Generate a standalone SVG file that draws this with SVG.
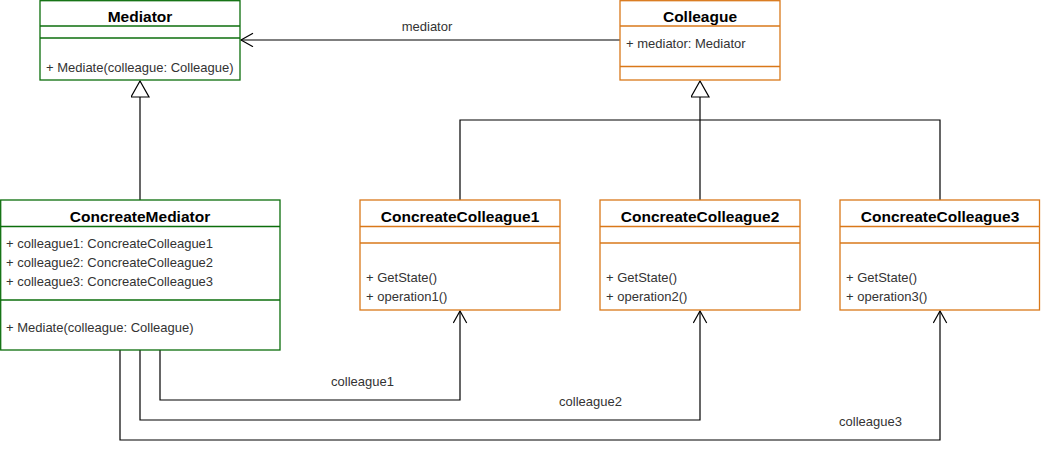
<svg xmlns="http://www.w3.org/2000/svg" width="1041" height="455" viewBox="0 0 1041 455">
<style>
.g{fill:#fff;stroke:#0c6e0c;stroke-width:1.3}
.o{fill:#fff;stroke:#d9781a;stroke-width:1.3}
.gl{stroke:#0c6e0c;stroke-width:1.3}
.ol{stroke:#d9781a;stroke-width:1.3}
.t{font-family:"Liberation Sans",Arial,sans-serif;font-size:15.5px;font-weight:bold;fill:#000;text-anchor:middle}
.m{font-family:"Liberation Sans",Arial,sans-serif;font-size:13px;fill:#333}
.c{fill:none;stroke:#000;stroke-width:1.2}
.l{font-family:"Liberation Sans",Arial,sans-serif;font-size:13px;fill:#333;text-anchor:middle}
</style>
<defs>
<marker id="open" markerWidth="16" markerHeight="16" refX="13" refY="7" orient="auto" markerUnits="userSpaceOnUse">
<path d="M1,0.3 L13,7 L1,13.7" fill="none" stroke="#000" stroke-width="1.2"/>
</marker>
<marker id="tri" markerWidth="20" markerHeight="22" refX="17" refY="9" orient="auto" markerUnits="userSpaceOnUse">
<path d="M1,0 L17,9 L1,18 Z" fill="#fff" stroke="#000" stroke-width="1.2"/>
</marker>
</defs>
<rect width="1041" height="455" fill="#fff"/>
<g id="connectors">
<path class="c" d="M620,40 H241" marker-end="url(#open)"/>
<path class="c" d="M140,200 V81" marker-end="url(#tri)"/>
<path class="c" d="M700,200 V81" marker-end="url(#tri)"/>
<path class="c" d="M460,200 V120 H940 V200"/>
<path class="c" d="M160,350 V400 H460 V311" marker-end="url(#open)"/>
<path class="c" d="M140,350 V420 H700 V311" marker-end="url(#open)"/>
<path class="c" d="M120,350 V440 H940 V311" marker-end="url(#open)"/>
<text class="l" x="427" y="31">mediator</text>
<text class="l" x="362.5" y="386">colleague1</text>
<text class="l" x="590.5" y="406">colleague2</text>
<text class="l" x="870.5" y="426">colleague3</text>
</g>
<g id="Mediator">
<rect class="g" x="40" y="0.7" width="200" height="79.3"/>
<line class="gl" x1="40" y1="26" x2="240" y2="26"/>
<line class="gl" x1="40" y1="38" x2="240" y2="38"/>
<text class="t" x="140" y="21.5">Mediator</text>
<text class="m" x="46" y="72">+ Mediate(colleague: Colleague)</text>
</g>
<g id="Colleague">
<rect class="o" x="620" y="0.7" width="160" height="79.3"/>
<line class="ol" x1="620" y1="26" x2="780" y2="26"/>
<line class="ol" x1="620" y1="66.5" x2="780" y2="66.5"/>
<text class="t" x="700" y="21.5">Colleague</text>
<text class="m" x="626" y="47.5">+ mediator: Mediator</text>
</g>
<g id="ConcreateMediator">
<rect class="g" x="0.7" y="200" width="279.3" height="150"/>
<line class="gl" x1="0" y1="226.5" x2="280" y2="226.5"/>
<line class="gl" x1="0" y1="300" x2="280" y2="300"/>
<text class="t" x="140" y="222">ConcreateMediator</text>
<text class="m" x="6" y="248">+ colleague1: ConcreateColleague1</text>
<text class="m" x="6" y="267">+ colleague2: ConcreateColleague2</text>
<text class="m" x="6" y="286">+ colleague3: ConcreateColleague3</text>
<text class="m" x="6" y="332">+ Mediate(colleague: Colleague)</text>
</g>
<g id="ConcreateColleague1">
<rect class="o" x="360" y="200" width="200" height="110"/>
<line class="ol" x1="360" y1="226.5" x2="560" y2="226.5"/>
<line class="ol" x1="360" y1="243" x2="560" y2="243"/>
<text class="t" x="460" y="222">ConcreateColleague1</text>
<text class="m" x="366" y="282">+ GetState()</text>
<text class="m" x="366" y="301">+ operation1()</text>
</g>
<g id="ConcreateColleague2">
<rect class="o" x="600" y="200" width="200" height="110"/>
<line class="ol" x1="600" y1="226.5" x2="800" y2="226.5"/>
<line class="ol" x1="600" y1="243" x2="800" y2="243"/>
<text class="t" x="700" y="222">ConcreateColleague2</text>
<text class="m" x="606" y="282">+ GetState()</text>
<text class="m" x="606" y="301">+ operation2()</text>
</g>
<g id="ConcreateColleague3">
<rect class="o" x="840" y="200" width="199.5" height="110"/>
<line class="ol" x1="840" y1="226.5" x2="1040" y2="226.5"/>
<line class="ol" x1="840" y1="243" x2="1040" y2="243"/>
<text class="t" x="940" y="222">ConcreateColleague3</text>
<text class="m" x="846" y="282">+ GetState()</text>
<text class="m" x="846" y="301">+ operation3()</text>
</g>
</svg>
